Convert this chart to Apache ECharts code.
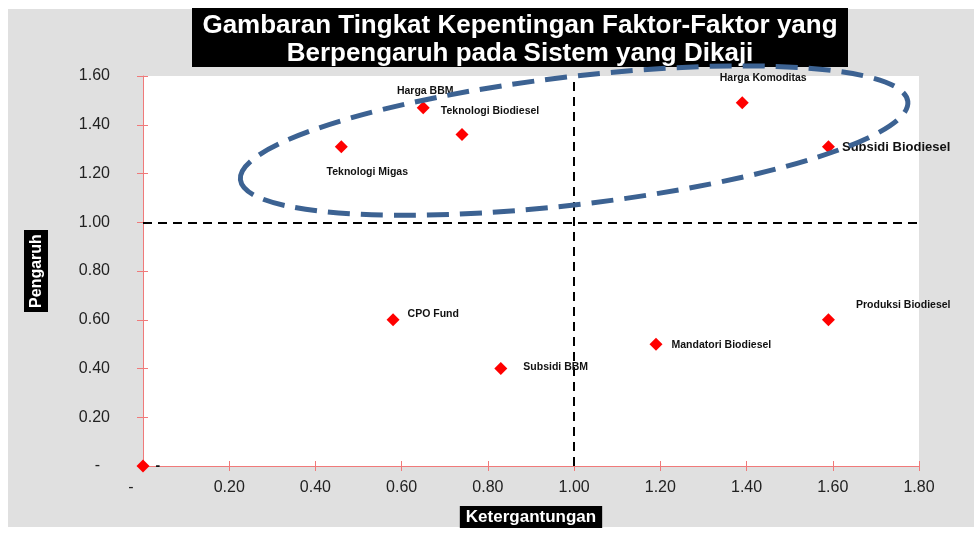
<!DOCTYPE html>
<html><head><meta charset="utf-8">
<script src="https://cdn.jsdelivr.net/npm/echarts@6/dist/echarts.min.js"></script>
<style>html,body{margin:0;padding:0;background:#fff}#c{width:974px;height:533px}</style>
</head><body><div id="c"></div>
<script>
const names = ['Teknologi Migas','Harga BBM','Teknologi Biodiesel','Harga Komoditas','Subsidi Biodiesel','CPO Fund','Subsidi BBM','Mandatori Biodiesel','Produksi Biodiesel','-'];
const xVals = [0.46,0.65,0.74,1.39,1.59,0.58,0.83,1.19,1.59,0];
const yVals = [1.31,1.47,1.36,1.49,1.31,0.60,0.40,0.50,0.60,0];
const xTicks = [0,0.2,0.4,0.6,0.8,1.0,1.2,1.4,1.6,1.8];
const yTicks = [0,0.2,0.4,0.6,0.8,1.0,1.2,1.4,1.6];
const titleLines = ['Gambaran Tingkat Kepentingan Faktor-Faktor yang','Berpengaruh pada Sistem yang Dikaji'];

const labelLayout = [
  {position:'bottom', offset:[26,8]},
  {position:'top', offset:[2,0]},
  {position:'top', offset:[28,-6]},
  {position:'top', offset:[21,-8]},
  {position:'right', offset:[2,1], fontSize:13},
  {position:'right', offset:[3,-6]},
  {position:'right', offset:[11,-1]},
  {position:'right', offset:[4,1]},
  {position:'right', offset:[16,-15]},
  {position:'right', offset:[1,0], fontSize:14}
];

const data = xVals.map((x,i)=>({
  value:[x,yVals[i]], name:names[i],
  label:{show:true, formatter:names[i], position:labelLayout[i].position, offset:labelLayout[i].offset,
    fontSize:labelLayout[i].fontSize||10.5, fontWeight:'bold', color:'#111', fontFamily:'Liberation Sans'}
}));

const fmt = v => {
  const r = Math.round(v*100)/100;
  return r===0 ? '-' : r.toFixed(2);
};

const chart = echarts.init(document.getElementById('c'), null, {renderer:'canvas'});
const axisCommon = {
  type:'value', interval:0.2,
  axisLine:{show:true, onZero:false, lineStyle:{color:'#f07a7a', width:1}},
  splitLine:{show:false}
};
const baseGraphic = [
  {type:'rect', z:-10, silent:true, shape:{x:8, y:9, width:966, height:518}, style:{fill:'#e0e0e0'}},
  {type:'rect', z:10, shape:{x:192, y:8, width:656, height:59}, style:{fill:'#000'}},
  {type:'text', z:11, x:520, y:40, style:{text:titleLines.join('\n'), fill:'#fff', font:'bold 26px "Liberation Sans"', align:'center', verticalAlign:'middle', lineHeight:28}}
];
chart.setOption({
  animation:false,
  backgroundColor:'#ffffff',
  grid:{left:143, top:76, right:55, bottom:66, show:true, backgroundColor:'#ffffff', borderWidth:0},
  xAxis:[Object.assign({}, axisCommon, {
    min:0, max:1.8, position:'bottom',
    axisTick:{show:true, length:5, lineStyle:{color:'#f07a7a'}},
    axisLabel:{fontSize:16, color:'#222', fontFamily:'Liberation Sans', margin:14,
      formatter:v=>fmt(v)==='-'?'{z|-}':fmt(v), rich:{z:{fontSize:16, color:'#222', padding:[0,24,0,0]}}},
    name:'Ketergantungan', nameLocation:'middle', nameGap:40,
    nameTextStyle:{color:'#fff', backgroundColor:'#000', fontSize:17, fontWeight:'bold', fontFamily:'Liberation Sans', padding:[3,6,2,6]}
  }), Object.assign({}, axisCommon, {
    min:0, max:1.8, position:'bottom', axisLine:{show:false},
    axisTick:{show:true, inside:true, length:5, lineStyle:{color:'#f07a7a'}},
    axisLabel:{show:false}
  })],
  yAxis:[Object.assign({}, axisCommon, {
    min:0, max:1.6,
    axisTick:{show:true, length:6, lineStyle:{color:'#f07a7a'}},
    axisLabel:{fontSize:16, color:'#222', fontFamily:'Liberation Sans', margin:33,
      formatter:v=>fmt(v)==='-'?'{z|-}':fmt(v), rich:{z:{fontSize:16, color:'#222', padding:[0,10,0,0]}}},
    name:'Pengaruh', nameLocation:'middle', nameGap:95, nameRotate:90,
    nameTextStyle:{color:'#fff', backgroundColor:'#000', fontSize:16, fontWeight:'bold', fontFamily:'Liberation Sans', padding:[5,4,3,4]}
  }), Object.assign({}, axisCommon, {
    min:0, max:1.6, position:'left', axisLine:{show:false},
    axisTick:{show:true, inside:true, length:5, lineStyle:{color:'#f07a7a'}},
    axisLabel:{show:false}
  })],
  graphic:baseGraphic,
  series:[{
    type:'scatter', xAxisIndex:0, yAxisIndex:0,
    symbol:'diamond', symbolSize:[13,13],
    itemStyle:{color:'#ff0000', opacity:1},
    data:data,
    z:5,
    markLine:{
      silent:true, symbol:'none', label:{show:false},
      lineStyle:{color:'#000', type:[9,6], width:2},
      data:[{xAxis:1}, {yAxis:1}]
    }
  }]
});

const c = chart.convertToPixel({xAxisIndex:0, yAxisIndex:0}, [1.0, 1.335]);
chart.setOption({graphic:baseGraphic.concat([
  {type:'ellipse', z:20, x:c[0], y:c[1], rotation:0.117, silent:true,
   shape:{cx:0, cy:0, rx:336, ry:64},
   style:{fill:'none', stroke:'#3c6292', lineWidth:5, lineDash:[22,11]}}
])});
</script></body></html>
